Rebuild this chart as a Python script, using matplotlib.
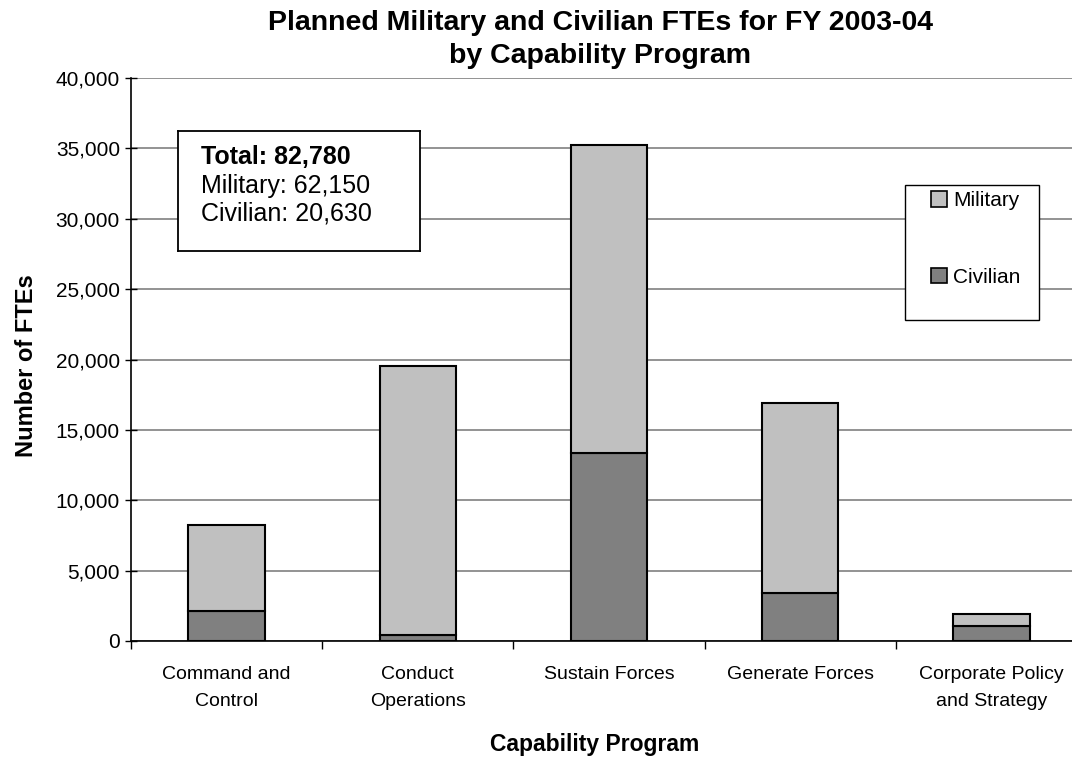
import numpy as np
import matplotlib.pyplot as plt
from matplotlib.patches import Patch, Rectangle

plt.rcParams['font.family'] = ['Liberation Sans', 'DejaVu Sans']

# FTEs by capability program
programs = ['Command and\nControl', 'Conduct\nOperations', 'Sustain Forces',
            'Generate Forces', 'Corporate Policy\nand Strategy']
civilian = [2100, 410, 13350, 3380, 1100]
military = [6130, 19160, 21910, 13520, 830]

civ_color = '#808080'
mil_color = '#c0c0c0'

W, H = 1072, 757
fig = plt.figure(figsize=(W / 100, H / 100), dpi=100)
# plot area runs a little past the right edge of the page
ax = fig.add_axes([131 / W, 1 - 641 / H, 956 / W, 563 / H])

x = np.arange(len(programs))
ax.bar(x, civilian, width=0.40, color=civ_color, edgecolor='black', linewidth=1.5, zorder=3)
ax.bar(x, military, width=0.40, bottom=civilian, color=mil_color, edgecolor='black',
       linewidth=1.5, zorder=3)

ax.set_xlim(-0.5, len(programs) - 0.5)
ax.set_ylim(0, 40000)
ax.set_yticks(np.arange(0, 40001, 5000))
ax.set_yticklabels([f'{v:,}' for v in range(0, 40001, 5000)], fontsize=15)
ax.yaxis.grid(True, color='#808080', linewidth=1.2, zorder=0)
ax.set_axisbelow(True)

# category labels centered, ticks on the boundaries
ax.set_xticks(x)
ax.set_xticklabels(programs, fontsize=14, linespacing=1.75)
ax.tick_params(axis='x', length=0, pad=18)
ax.set_xticks(np.arange(-0.5, len(programs)), minor=True)
ax.tick_params(axis='x', which='minor', length=6, direction='out', width=1)
ax.tick_params(axis='y', length=8, direction='inout', width=1, pad=4)

for side in ['top', 'right']:
    ax.spines[side].set_visible(False)
ax.spines['left'].set_linewidth(1.2)
ax.spines['bottom'].set_linewidth(1.2)

ax.set_ylabel('Number of FTEs', fontsize=17, fontweight='bold', va='center')
ax.yaxis.set_label_coords((27 - 131) / 956, (641 - 366) / 563)
ax.set_xlabel('Capability Program', fontsize=16.5, fontweight='bold', va='center')
ax.xaxis.set_label_coords((595 - 131) / 956, -(745 - 641) / 563)

fig.text(600 / W, 1 - 23 / H, 'Planned Military and Civilian FTEs for FY 2003-04',
         ha='center', va='center', fontsize=20.5, fontweight='bold')
fig.text(600 / W, 1 - 56 / H, 'by Capability Program',
         ha='center', va='center', fontsize=20.5, fontweight='bold')

# summary box
box_ax = fig.add_axes([178 / W, 1 - 251 / H, 242 / W, 120 / H])
box_ax.set_xticks([])
box_ax.set_yticks([])
for s in box_ax.spines.values():
    s.set_linewidth(1.3)
box_ax.text(0.095, 0.78, 'Total: 82,780', fontsize=18, fontweight='bold',
            va='center', transform=box_ax.transAxes)
box_ax.text(0.095, 0.545, 'Military: 62,150', fontsize=18, va='center',
            transform=box_ax.transAxes)
box_ax.text(0.095, 0.31, 'Civilian: 20,630', fontsize=18, va='center',
            transform=box_ax.transAxes)

# legend frame
fig.patches.append(Rectangle((905 / W, 1 - 320 / H), 134 / W, 135 / H,
                             transform=fig.transFigure, facecolor='white',
                             edgecolor='black', linewidth=1.0, zorder=4))
handles = [Patch(facecolor=mil_color, edgecolor='black', linewidth=1.2, label='Military'),
           Patch(facecolor=civ_color, edgecolor='black', linewidth=1.2, label='Civilian')]
leg = fig.legend(handles=handles, loc='upper left', bbox_to_anchor=(925 / W, 1 - 185 / H),
                 frameon=False, fontsize=15, handlelength=0.75, handleheight=0.75,
                 handletextpad=0.3, labelspacing=2.75, borderpad=0.3, borderaxespad=0)
leg.set_zorder(5)

fig.savefig('out.png', dpi=100)
